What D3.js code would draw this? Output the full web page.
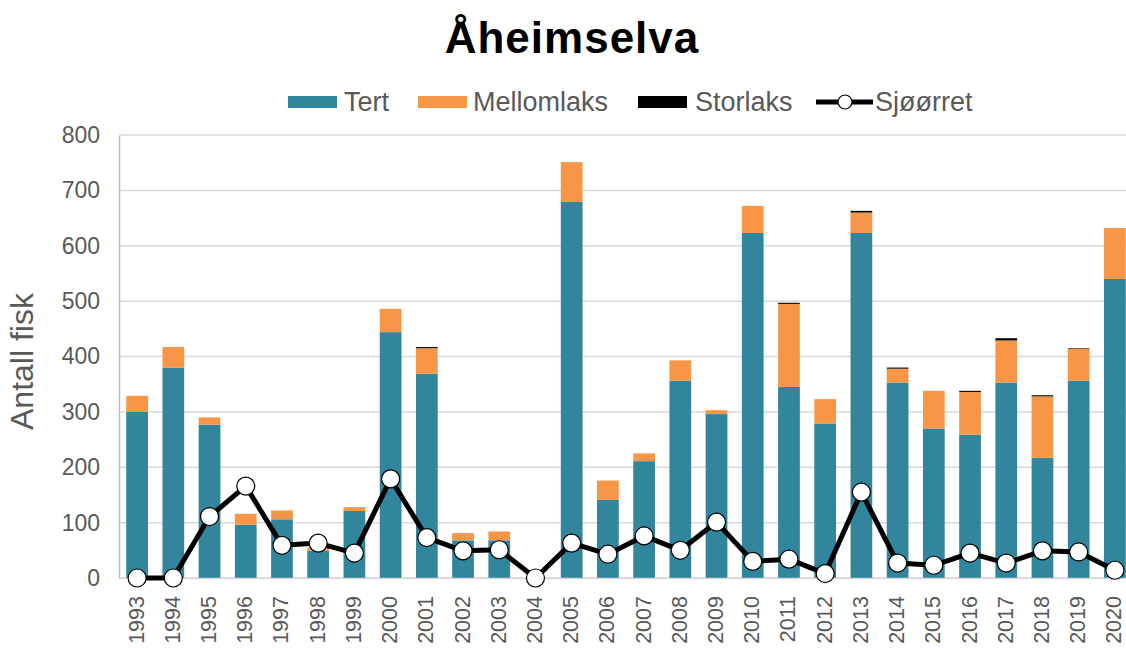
<!DOCTYPE html>
<html>
<head>
<meta charset="utf-8">
<script src="https://cdn.jsdelivr.net/npm/d3@7/dist/d3.min.js"></script>
<style>
  html, body { margin: 0; padding: 0; background: #fff; }
  svg { display: block; font-family: Arial, "Liberation Sans", sans-serif; }
</style>
</head>
<body>
<svg id="chart" width="1126" height="648"></svg>
<script>
// Catch per year in Åheimselva
const years = [1993,1994,1995,1996,1997,1998,1999,2000,2001,2002,2003,2004,2005,2006,
               2007,2008,2009,2010,2011,2012,2013,2014,2015,2016,2017,2018,2019,2020];
const tert       = [300,380,277,96,106,49,121,444,369,68,68,0,679,141,211,356,296,623,345,279,623,353,270,259,353,217,356,540];
const mellomlaks = [29,37,13,20,16,6,7,42,46,13,16,0,72,35,14,37,7,49,150,44,37,25,68,77,76,111,58,92];
const storlaks   = [0,0,0,0,0,0,0,0,2,0,0,0,0,0,0,0,0,0,2,0,3,2,0,2,4,2,1,0];
const sjoorret   = [0,0,111,166,59,63,45,179,73,49,51,0,63,43,76,50,101,30,34,8,155,27,23,45,27,49,47,14];
const yTicks     = [0,100,200,300,400,500,600,700,800];

const seriesKeys   = ["Tert", "Mellomlaks", "Storlaks"];
const seriesColors = { "Tert": "#31859c", "Mellomlaks": "#f79646", "Storlaks": "#000000" };

const rows = years.map((y, i) => ({ year: y, Tert: tert[i], Mellomlaks: mellomlaks[i], Storlaks: storlaks[i] }));

const svg = d3.select("#chart");
const plot = { left: 119, right: 1133, top: 135, bottom: 578 };
const font = "Arial, 'Liberation Sans', sans-serif";

const x = d3.scaleBand().domain(years).range([plot.left, plot.right]).paddingInner(0.4).paddingOuter(0.2);
const y = d3.scaleLinear().domain([0, 800]).range([plot.bottom, plot.top]);

// Title
svg.append("text")
  .attr("x", 572).attr("y", 53)
  .attr("text-anchor", "middle")
  .attr("font-size", 44).attr("font-weight", "bold").attr("fill", "#000")
  .attr("letter-spacing", 1)
  .text("Åheimselva");

// Horizontal gridlines
svg.append("g")
  .selectAll("line").data(yTicks).join("line")
  .attr("x1", plot.left).attr("x2", plot.right)
  .attr("y1", d => y(d)).attr("y2", d => y(d))
  .attr("stroke", "#d9d9d9").attr("stroke-width", 1.5);

// Y axis
const yAxis = svg.append("g")
  .attr("transform", `translate(${plot.left},0)`)
  .call(d3.axisLeft(y).tickValues(yTicks).tickSize(0).tickPadding(19));
yAxis.select(".domain").attr("stroke", "#bfbfbf").attr("stroke-width", 1.5);
yAxis.selectAll("text").attr("font-size", 23).attr("fill", "#595959").attr("font-family", font);

// Y axis title
svg.append("text")
  .attr("transform", `translate(33,${(plot.top + plot.bottom) / 2 + 5}) rotate(-90)`)
  .attr("text-anchor", "middle")
  .attr("font-size", 32).attr("fill", "#595959")
  .text("Antall fisk");

// Stacked bars
const stacked = d3.stack().keys(seriesKeys)(rows);
svg.append("g")
  .selectAll("g").data(stacked).join("g")
  .attr("fill", d => seriesColors[d.key])
  .selectAll("rect").data(d => d).join("rect")
  .attr("x", d => x(d.data.year))
  .attr("width", x.bandwidth())
  .attr("y", d => y(d[1]))
  .attr("height", d => Math.max(0, y(d[0]) - y(d[1])));

// X axis
const xAxis = svg.append("g")
  .attr("transform", `translate(0,${plot.bottom})`)
  .call(d3.axisBottom(x).tickSize(0).tickPadding(0));
xAxis.select(".domain").attr("stroke", "#d9d9d9").attr("stroke-width", 1.5);
xAxis.selectAll("text")
  .attr("font-size", 21.5).attr("fill", "#595959").attr("font-family", font)
  .attr("text-anchor", "end")
  .attr("x", 0).attr("y", 0)
  .attr("dy", "0.35em")
  .attr("transform", "translate(-1,18) rotate(-90)");

// Sjøørret line with markers
const cx = d => x(d.year) + x.bandwidth() / 2;
const lineData = years.map((yr, i) => ({ year: yr, v: sjoorret[i] }));
svg.append("path")
  .datum(lineData)
  .attr("fill", "none").attr("stroke", "#000").attr("stroke-width", 5)
  .attr("stroke-linejoin", "round")
  .attr("d", d3.line().x(cx).y(d => y(d.v)));
svg.append("g")
  .selectAll("circle").data(lineData).join("circle")
  .attr("cx", cx).attr("cy", d => y(d.v)).attr("r", 9)
  .attr("fill", "#fff").attr("stroke", "#000").attr("stroke-width", 1.2);

// Legend
const legend = svg.append("g").attr("font-size", 27).attr("fill", "#595959");
const legendItems = [
  { key: "Tert", x: 288, tx: 344 },
  { key: "Mellomlaks", x: 418, tx: 473 },
  { key: "Storlaks", x: 638, tx: 695 }
];
legendItems.forEach(it => {
  legend.append("rect").attr("x", it.x).attr("y", 96).attr("width", 49).attr("height", 12)
    .attr("fill", seriesColors[it.key]);
  legend.append("text").attr("x", it.tx).attr("y", 111).attr("fill", "#595959").text(it.key);
});
legend.append("line").attr("x1", 816).attr("x2", 873).attr("y1", 102).attr("y2", 102)
  .attr("stroke", "#000").attr("stroke-width", 5);
legend.append("circle").attr("cx", 845).attr("cy", 102).attr("r", 7)
  .attr("fill", "#fff").attr("stroke", "#000").attr("stroke-width", 1.2);
legend.append("text").attr("x", 875).attr("y", 111).attr("fill", "#595959").text("Sjøørret");
</script>
</body>
</html>
